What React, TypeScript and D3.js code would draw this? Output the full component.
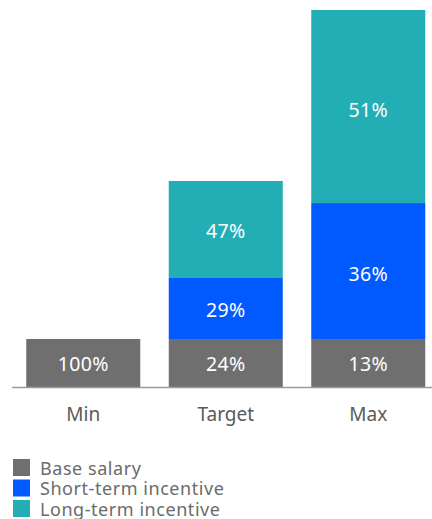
import React from "react";
import * as d3 from "d3";

const categories = ["Min", "Target", "Max"];
const seriesNames = ["Base salary", "Short-term incentive", "Long-term incentive"];
// values in multiples of base salary
const baseSalary = [1, 1, 1];
const shortTerm = [0, 1.27, 2.83];
const longTerm = [0, 2.02, 4.02];
const baseLabels = ["100%", "24%", "13%"];
const shortLabels = ["", "29%", "36%"];
const longLabels = ["", "47%", "51%"];
const colors = ["#706f6f", "#005aff", "#23adb4"];

const W = 432;
const H = 519;
const FONT = "'Noto Sans', 'Open Sans', sans-serif";

export default function App() {
  const x = d3.scaleBand<string>().domain(categories).range([12, 439.5]).paddingInner(0.2).paddingOuter(0.1);
  const totals = categories.map((_, i) => baseSalary[i] + shortTerm[i] + longTerm[i]);
  const y = d3.scaleLinear().domain([0, d3.max(totals) as number]).range([387, 10]);

  const rows = categories.map((c, i) => ({ cat: c, base: baseSalary[i], sti: shortTerm[i], lti: longTerm[i] }));
  const stack = d3.stack<any>().keys(["base", "sti", "lti"])(rows);
  const labels = [baseLabels, shortLabels, longLabels];

  return (
    <svg width={W} height={H} style={{ position: "absolute", left: 0, top: 0 }} fontFamily={FONT}>
      {stack.map((layer, si) => (
        <g key={si}>
          {layer.map((d, i) => {
            const h = y(d[0]) - y(d[1]);
            if (h <= 0) return null;
            const bx = x(categories[i]) as number;
            return (
              <g key={i}>
                <rect x={bx} y={y(d[1])} width={x.bandwidth()} height={h} fill={colors[si]} />
                {labels[si][i] && (
                  <text
                    x={bx + x.bandwidth() / 2}
                    y={y(d[0]) - 0.48 * h}
                    dy="0.36em"
                    textAnchor="middle"
                    fill="#ffffff"
                    fontSize={19.5}
                    letterSpacing={0.3}
                  >
                    {labels[si][i]}
                  </text>
                )}
              </g>
            );
          })}
        </g>
      ))}
      <line x1={12} x2={W} y1={387.5} y2={387.5} stroke="#9a9a9a" strokeWidth={1.5} />
      {categories.map((c) => (
        <text key={c} x={(x(c) as number) + x.bandwidth() / 2} y={421} textAnchor="middle" fill="#5a5a5a" fontSize={19}>
          {c}
        </text>
      ))}
      {seriesNames.map((s, i) => (
        <g key={s} transform={`translate(13, ${459 + i * 20.5})`}>
          <rect width={17} height={17} fill={colors[i]} />
          <text x={27} y={15.5} fill="#6b6b6b" fontSize={18} letterSpacing={0.55}>
            {s}
          </text>
        </g>
      ))}
    </svg>
  );
}
